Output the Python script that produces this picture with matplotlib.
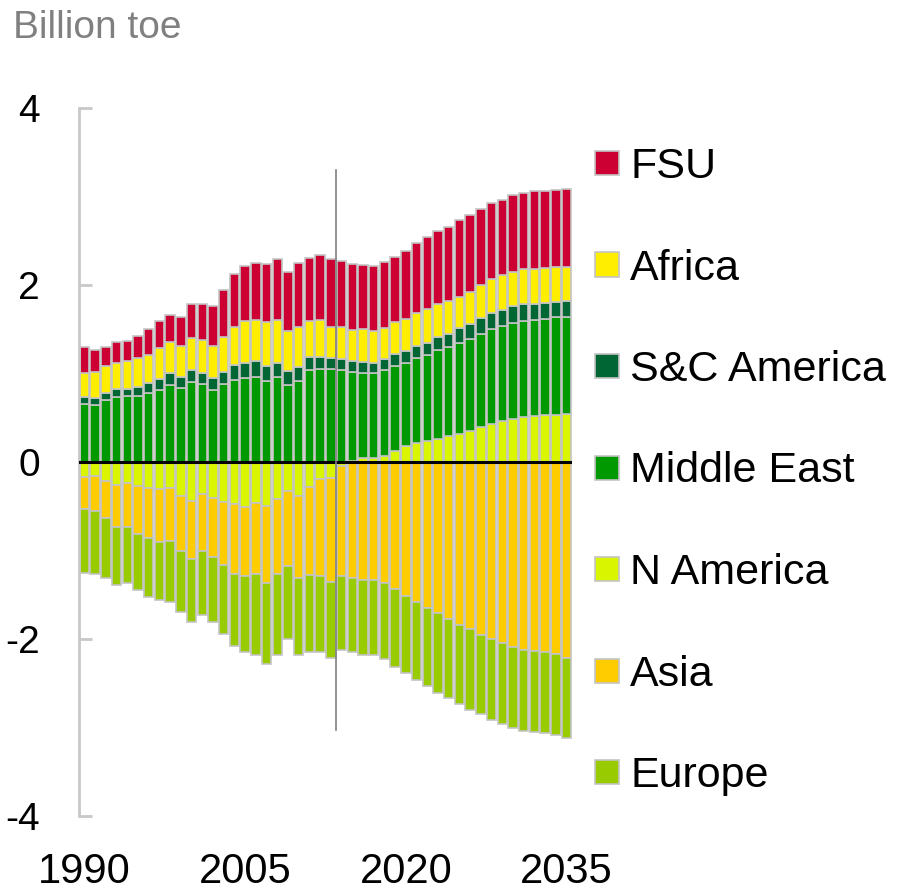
import numpy as np
import matplotlib
matplotlib.use("Agg")
import matplotlib.pyplot as plt
from matplotlib.patches import Rectangle

plt.rcParams['font.family'] = ['Liberation Sans', 'DejaVu Sans']
plt.rcParams['axes.unicode_minus'] = False

# net trade by region, billion toe (exports positive, imports negative)
years = list(range(1990, 2036))
n_america = [-0.17, -0.16, -0.21, -0.26, -0.24, -0.27, -0.29, -0.30, -0.29, -0.38, -0.44, -0.36,
             -0.41, -0.45, -0.48, -0.51, -0.46, -0.50, -0.42, -0.33, -0.38, -0.28, -0.19, -0.18,
             -0.05, 0.01, 0.04, 0.04, 0.07, 0.12, 0.18, 0.21, 0.24, 0.26, 0.29, 0.32,
             0.35, 0.40, 0.43, 0.46, 0.49, 0.51, 0.52, 0.53, 0.53, 0.54]
middle_east = [0.66, 0.64, 0.70, 0.73, 0.75, 0.75, 0.78, 0.81, 0.87, 0.84, 0.90, 0.88,
               0.81, 0.88, 0.93, 0.95, 0.96, 0.92, 0.96, 0.87, 0.92, 1.04, 1.05, 1.05,
               1.04, 1.01, 0.97, 0.96, 0.97, 0.97, 0.94, 0.96, 0.97, 1.00, 1.01, 1.03,
               1.04, 1.05, 1.07, 1.08, 1.08, 1.08, 1.09, 1.09, 1.11, 1.10]
sc_america = [0.07, 0.08, 0.08, 0.09, 0.08, 0.10, 0.11, 0.13, 0.14, 0.12, 0.14, 0.13,
              0.14, 0.14, 0.17, 0.17, 0.18, 0.17, 0.16, 0.16, 0.15, 0.15, 0.14, 0.12,
              0.12, 0.12, 0.12, 0.12, 0.12, 0.13, 0.13, 0.14, 0.13, 0.15, 0.15, 0.16,
              0.17, 0.18, 0.18, 0.18, 0.19, 0.19, 0.18, 0.18, 0.17, 0.18]
africa = [0.28, 0.30, 0.31, 0.30, 0.31, 0.32, 0.32, 0.35, 0.35, 0.35, 0.36, 0.37,
          0.36, 0.39, 0.43, 0.47, 0.47, 0.49, 0.48, 0.45, 0.46, 0.40, 0.42, 0.36,
          0.37, 0.35, 0.37, 0.36, 0.35, 0.36, 0.37, 0.37, 0.39, 0.37, 0.37, 0.36,
          0.36, 0.37, 0.39, 0.39, 0.39, 0.40, 0.39, 0.39, 0.39, 0.38]
fsu = [0.29, 0.24, 0.21, 0.24, 0.23, 0.25, 0.29, 0.30, 0.30, 0.33, 0.38, 0.41,
       0.45, 0.53, 0.59, 0.62, 0.64, 0.66, 0.69, 0.67, 0.72, 0.72, 0.73, 0.76,
       0.74, 0.75, 0.73, 0.73, 0.75, 0.74, 0.76, 0.79, 0.81, 0.83, 0.84, 0.86,
       0.87, 0.86, 0.86, 0.85, 0.87, 0.86, 0.88, 0.87, 0.87, 0.88]
asia = [-0.36, -0.39, -0.42, -0.47, -0.49, -0.54, -0.57, -0.60, -0.60, -0.63, -0.66, -0.64,
        -0.66, -0.71, -0.78, -0.78, -0.81, -0.87, -0.85, -0.85, -0.93, -1.00, -1.10, -1.18,
        -1.24, -1.31, -1.33, -1.33, -1.37, -1.44, -1.51, -1.58, -1.65, -1.71, -1.77, -1.84,
        -1.89, -1.95, -2.00, -2.05, -2.09, -2.12, -2.14, -2.15, -2.17, -2.21]
europe = [-0.72, -0.71, -0.68, -0.66, -0.64, -0.64, -0.66, -0.66, -0.69, -0.68, -0.71, -0.73,
          -0.74, -0.78, -0.82, -0.86, -0.91, -0.91, -0.91, -0.82, -0.87, -0.87, -0.86, -0.86,
          -0.83, -0.84, -0.85, -0.85, -0.86, -0.88, -0.87, -0.88, -0.88, -0.90, -0.90, -0.90,
          -0.91, -0.90, -0.91, -0.91, -0.92, -0.92, -0.91, -0.91, -0.91, -0.91]

tick_years = [1990, 2005, 2020, 2035]
last_history_year = 2013

colors = {
    'FSU': '#cc0033',
    'Africa': '#ffee00',
    'S&C America': '#006633',
    'Middle East': '#009900',
    'N America': '#d9f500',
    'Asia': '#ffcc00',
    'Europe': '#99cc00',
}

W, H = 913, 893
fig = plt.figure(figsize=(W / 100, H / 100), dpi=100)
ax = fig.add_axes([79 / W, 77 / H, 493 / W, 708 / H])

x = np.arange(len(years))
nam = np.array(n_america)
pos_base = np.clip(nam, 0, None)
neg_base = np.clip(nam, None, 0)

bar_kw = dict(width=0.88, edgecolor='#c4c4c4', linewidth=1.2, zorder=2)

# N America straddles zero, then positive stack above it and negative stack below
ax.bar(x, nam, color=colors['N America'], **bar_kw)
bottom = pos_base.copy()
for name, vals in [('Middle East', middle_east), ('S&C America', sc_america),
                   ('Africa', africa), ('FSU', fsu)]:
    v = np.array(vals)
    ax.bar(x, v, bottom=bottom, color=colors[name], **bar_kw)
    bottom = bottom + v
bottom = neg_base.copy()
for name, vals in [('Asia', asia), ('Europe', europe)]:
    v = np.array(vals)
    ax.bar(x, v, bottom=bottom, color=colors[name], **bar_kw)
    bottom = bottom + v

ax.axhline(0, color='black', linewidth=2.2, zorder=4)
split = years.index(last_history_year) + 0.5
ax.plot([split, split], [-3.03, 3.3], color='#808080', linewidth=1.2, zorder=5)

ax.set_xlim(-0.5, len(years) - 0.5)
ax.set_ylim(-4, 4)
for s in ['top', 'right', 'bottom']:
    ax.spines[s].set_visible(False)
ax.spines['left'].set_color('#c8c8c8')
ax.spines['left'].set_linewidth(2)

ax.set_yticks([-4, -2, 0, 2, 4])
ax.tick_params(axis='y', direction='in', length=9, width=2, color='#c8c8c8',
               labelsize=28, pad=28)
ax.set_xticks([years.index(y) for y in tick_years])
ax.set_xticklabels([str(y) for y in tick_years])
ax.tick_params(axis='x', length=0, labelsize=30, pad=26)

fig.text(13 / W, 1 - 38 / H, 'Billion toe', fontsize=28, color='#808080', va='baseline')

# legend, top to bottom
legend_names = ['FSU', 'Africa', 'S&C America', 'Middle East', 'N America', 'Asia', 'Europe']
for i, name in enumerate(legend_names):
    cy = 163 + 101.5 * i
    fig.add_artist(Rectangle((595 / W, 1 - (cy + 12) / H), 24 / W, 24 / H,
                             transform=fig.transFigure, facecolor=colors[name],
                             edgecolor='#c4c4c4', linewidth=1.2))
    fig.text(630 / W, 1 - (cy + 15) / H, name, fontsize=31, va='baseline')

fig.savefig('out.png', dpi=100)
